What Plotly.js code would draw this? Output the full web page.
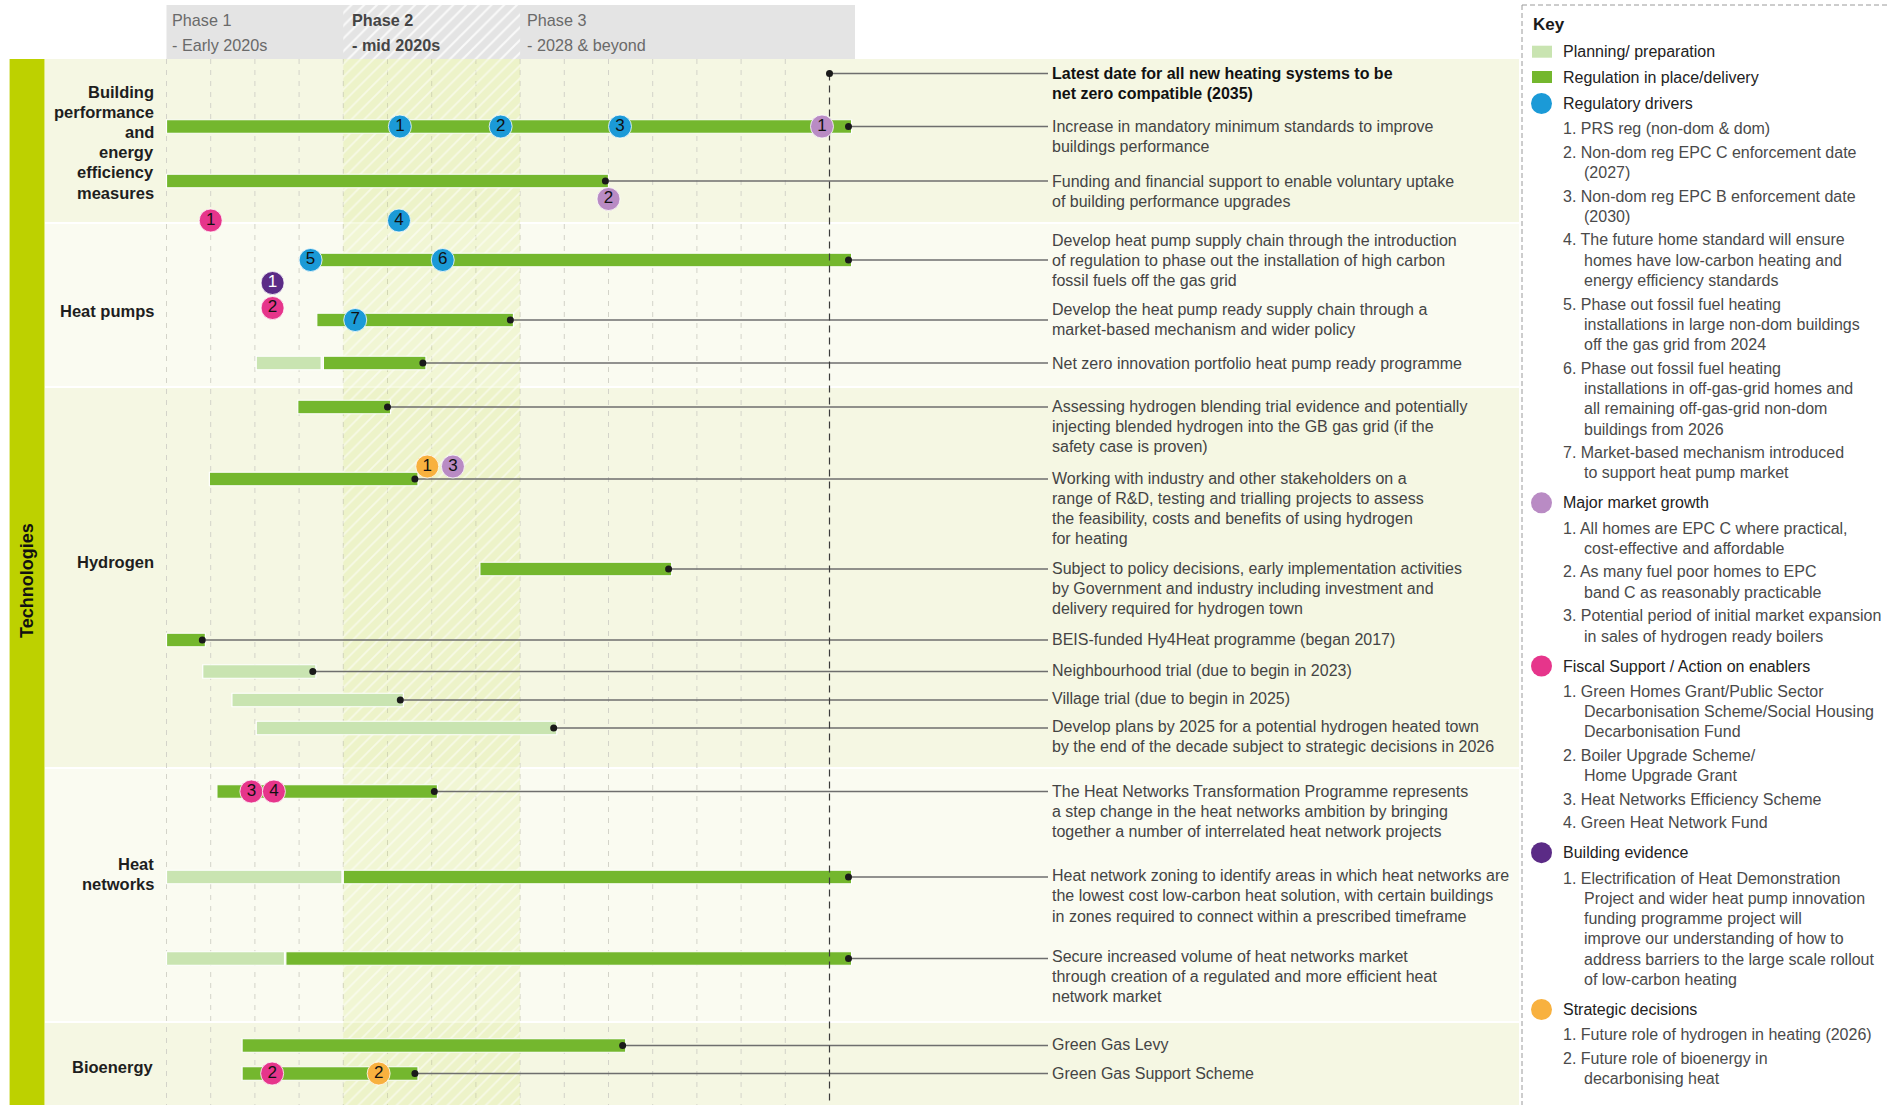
<!DOCTYPE html>
<html><head><meta charset="utf-8">
<script src="https://cdn.plot.ly/plotly-3.0.1.min.js"></script>
<style>html,body{margin:0;padding:0;background:#fff;overflow:hidden}</style>
</head><body><div id="chart" style="width:1887px;height:1105px"></div>
<script>
// ================= DATA =================
const categories = ['Building performance and energy efficiency measures','Heat pumps','Hydrogen','Heat networks','Bioenergy'];
const categoryLines = [['Building','performance','and','energy','efficiency','measures'],['Heat pumps'],['Hydrogen'],['Heat','networks'],['Bioenergy']];
const phaseNames = ['Phase 1','Phase 2','Phase 3'];
const phaseSubtitles = ['- Early 2020s','- mid 2020s','- 2028 & beyond'];
const phaseStartYear = [2020, 2024, 2028];

const activityLines = [
 ['Increase in mandatory minimum standards to improve','buildings performance'],
 ['Funding and financial support to enable voluntary uptake','of building performance upgrades'],
 ['Develop heat pump supply chain through the introduction','of regulation to phase out the installation of high carbon','fossil fuels off the gas grid'],
 ['Develop the heat pump ready supply chain through a','market-based mechanism and wider policy'],
 ['Net zero innovation portfolio heat pump ready programme'],
 ['Assessing hydrogen blending trial evidence and potentially','injecting blended hydrogen into the GB gas grid (if the','safety case is proven)'],
 ['Working with industry and other stakeholders on a','range of R&D, testing and trialling projects to assess','the feasibility, costs and benefits of using hydrogen','for heating'],
 ['Subject to policy decisions, early implementation activities','by Government and industry including investment and','delivery required for hydrogen town'],
 ['BEIS-funded Hy4Heat programme (began 2017)'],
 ['Neighbourhood trial (due to begin in 2023)'],
 ['Village trial (due to begin in 2025)'],
 ['Develop plans by 2025 for a potential hydrogen heated town','by the end of the decade subject to strategic decisions in 2026'],
 ['The Heat Networks Transformation Programme represents','a step change in the heat networks ambition by bringing','together a number of interrelated heat network projects'],
 ['Heat network zoning to identify areas in which heat networks are','the lowest cost low-carbon heat solution, with certain buildings','in zones required to connect within a prescribed timeframe'],
 ['Secure increased volume of heat networks market','through creation of a regulated and more efficient heat','network market'],
 ['Green Gas Levy'],
 ['Green Gas Support Scheme']
];
const planStart  = [null,null,null,null,2022.03,null,null,null,null,2020.82,2021.48,2022.03,null,2020.00,2020.00,null,null];
const planEnd    = [null,null,null,null,2023.50,null,null,null,null,2023.38,2025.36,2028.83,null,2023.97,2022.67,null,null];
const delivStart = [2020.00,2020.00,2023.30,2023.40,2023.55,2022.97,2020.97,2027.09,2020.00,null,null,null,2021.14,2024.00,2022.70,2021.71,2021.71];
const delivEnd   = [2035.50,2030.00,2035.50,2027.85,2025.87,2025.07,2025.69,2031.43,2020.88,null,null,null,2026.13,2035.50,2035.50,2030.39,2025.69];

const deadlineYear = 2035;
const deadlineLines = ['Latest date for all new heating systems to be','net zero compatible (2035)'];

const milestoneType = ['reg','reg','reg','reg','reg','reg','reg','mkt','mkt','mkt','fis','fis','fis','fis','fis','evi','str','str'];
const milestoneNum  = [1,2,3,4,5,6,7, 1,2,3, 1,2,3,4,2, 1, 1,2];
const milestoneYear = [2025.28,2027.56,2030.26,2025.26,2023.26,2026.25,2024.27, 2034.83,2030.00,2026.48, 2021.00,2022.40,2021.92,2022.43,2022.39, 2022.40, 2025.90,2024.80];
const milestoneSlot = ['bp1','bp1','bp1','bpLow','hp1','hp1','hp2', 'bp1','bp2Low','h2Dec', 'bpLow','hpFis','hn1','hn1','bio2', 'hpEvi', 'h2Dec','bio2'];

const keyBars = ['Planning/ preparation','Regulation in place/delivery'];
const keyGroups = [
 {type:'reg', title:'Regulatory drivers', items:[
   ['1. PRS reg (non-dom & dom)'],
   ['2. Non-dom reg EPC C enforcement date','(2027)'],
   ['3. Non-dom reg EPC B enforcement date','(2030)'],
   ['4. The future home standard will ensure','homes have low-carbon heating and','energy efficiency standards'],
   ['5. Phase out fossil fuel heating','installations in large non-dom buildings','off the gas grid from 2024'],
   ['6. Phase out fossil fuel heating','installations in off-gas-grid homes and','all remaining off-gas-grid non-dom','buildings from 2026'],
   ['7. Market-based mechanism introduced','to support heat pump market']]},
 {type:'mkt', title:'Major market growth', items:[
   ['1. All homes are EPC C where practical,','cost-effective and affordable'],
   ['2. As many fuel poor homes to EPC','band C as reasonably practicable'],
   ['3. Potential period of initial market expansion','in sales of hydrogen ready boilers']]},
 {type:'fis', title:'Fiscal Support / Action on enablers', items:[
   ['1. Green Homes Grant/Public Sector','Decarbonisation Scheme/Social Housing','Decarbonisation Fund'],
   ['2. Boiler Upgrade Scheme/','Home Upgrade Grant'],
   ['3. Heat Networks Efficiency Scheme'],
   ['4. Green Heat Network Fund']]},
 {type:'evi', title:'Building evidence', items:[
   ['1. Electrification of Heat Demonstration','Project and wider heat pump innovation','funding programme project will','improve our understanding of how to','address barriers to the large scale rollout','of low-carbon heating']]},
 {type:'str', title:'Strategic decisions', items:[
   ['1. Future role of hydrogen in heating (2026)'],
   ['2. Future role of bioenergy in','decarbonising heat']]}
];

// ================= LAYOUT / STYLE =================
const W = 1887, H = 1105;
const PX0 = 166.5, PPY = 44.2;
const px2yr = p => 2020 + (p - PX0) / PPY;
const FONT = '"Liberation Sans", Arial, Helvetica, sans-serif';
const BODY = 16.0;
const C = {plan:'#c9e4b1', deliv:'#74b72e', reg:'#1b9ad7', mkt:'#b98bc4', fis:'#e6358b', evi:'#5b2b86', str:'#f8b13f'};
const actY  = [126.5,181,260,320,363,407,479,569,640,671.5,700,728,791.5,877,958.5,1045.5,1073.5];
const textY = [126.5,181,240,309.5,363,406,478,568,639.5,670.5,698.5,726,791,875.5,956,1044.5,1073.5];
const slotY = {bp1:126.5, bpLow:220.5, bp2Low:199, hp1:260, hp2:320, hpEvi:283, hpFis:308, h2Dec:466.5, hn1:791.5, bio2:1073.5};
const LINE = 20.3;
const TEXT_PX = 1051, LINE_END_PX = 1048;
const rows = [[59,222,'#f5f7e3'],[224,386,'#fafbf1'],[388,767,'#f5f7e3'],[769,1021,'#fafbf1'],[1023,1105,'#f5f7e3']];
const catY = [[91.5,20.2],[310.5,0],[562,0],[864,19.5],[1067,0]];
const gridYears = [2020,2021,2022,2023,2024,2025,2026,2027,2028,2029,2030,2031,2032,2033,2034];

const shapes = [], annotations = [];
const esc = s => s.replace(/&/g,'&amp;');
function txt(text, xPx, yPx, o = {}) {
  annotations.push({text: esc(text), xref:'paper', x: xPx / W, yref:'y', y: yPx,
    xanchor: o.xanchor || 'left', yanchor:'middle', showarrow:false, borderpad:0,
    textangle: o.angle || 0,
    font:{family:FONT, size:o.size || BODY, color:o.color || '#444', weight: o.bold ? 'bold' : 'normal'}});
}
function rectPx(x0, x1, y0, y1, color, extra = {}) {
  shapes.push(Object.assign({type:'rect', layer:'below', xref:'paper', yref:'y', x0:x0/W, x1:x1/W, y0, y1,
    fillcolor:color, line:{width:0}}, extra));
}

// backgrounds
rows.forEach(r => rectPx(45, 1519, r[0], r[1], r[2]));
rectPx(9.6, 44.5, 59, 1105, '#bdd100');
rectPx(PX0, 855, 5, 59, '#e4e4e4');
gridYears.forEach(y => shapes.push({type:'line', layer:'below', xref:'x', yref:'y', x0:y, x1:y, y0:59, y1:1105,
  line:{color:'#d3d3c9', width:1, dash:'5px,6px'}}));
// key border
shapes.push({type:'line', layer:'below', xref:'paper', yref:'y', x0:1522/W, x1:1522/W, y0:5, y1:1105, line:{color:'#9a9a9a', width:1, dash:'5px,3px'}});
shapes.push({type:'line', layer:'below', xref:'paper', yref:'y', x0:1522/W, x1:1, y0:5, y1:5, line:{color:'#9a9a9a', width:1, dash:'5px,3px'}});

// header texts
const phasePx = [171, 351, 526];
phaseNames.forEach((p, i) => {
  const b = i === 1;
  txt(p, phasePx[i], 19.5, {color: b ? '#444' : '#6a6a6a', bold: b, size:16.2});
  txt(phaseSubtitles[i], phasePx[i], 44.5, {color: b ? '#444' : '#6a6a6a', bold: b, size:16.2});
});

// category labels
categoryLines.forEach((lines, i) => lines.forEach((l, j) =>
  txt(l, 155, catY[i][0] + j * catY[i][1], {xanchor:'right', bold:true, color:'#1e1e1e', size:16.5})));
txt('Technologies', 27, 581, {angle:-90, bold:true, color:'#111', size:18, xanchor:'center'});

// activity texts
activityLines.forEach((lines, i) => lines.forEach((l, j) => txt(l, TEXT_PX, textY[i] + j * LINE)));
deadlineLines.forEach((l, j) => txt(l, TEXT_PX, 73.5 + j * LINE, {bold:true, color:'#111'}));

// key
txt('Key', 1532, 24, {bold:true, color:'#1a1a1a', size:17});
rectPx(1532, 1552, 45.7, 57.7, C.plan, {layer:'above'});
rectPx(1532, 1552, 71, 83, C.deliv, {layer:'above'});
txt(keyBars[0], 1562, 51.7, {color:'#222'});
txt(keyBars[1], 1562, 77, {color:'#222'});
let ky = 103.5;
keyGroups.forEach((g, gi) => {
  if (gi > 0) ky += 30;
  shapes.push({type:'circle', layer:'above', xref:'paper', yref:'y', x0:(1541.5-10.5)/W, x1:(1541.5+10.5)/W, y0:ky-10.5, y1:ky+10.5, fillcolor:C[g.type], line:{width:0}});
  txt(g.title, 1562, ky, {color:'#222'});
  ky += 25.3 - 23.5;
  g.items.forEach(item => {
    ky += 23.5;
    item.forEach((l, j) => { if (j > 0) ky += LINE; txt(l, j === 0 ? 1562 : 1582.7, ky, {color:'#4a4a4a'}); });
  });
});

// ================= TRACES =================
const traces = [];
const xEnd = px2yr(LINE_END_PX);
// phase 2 hatched band (header + body)
traces.push({type:'bar', orientation:'h', y:[(5+59)/2], base:[phaseStartYear[1]], x:[phaseStartYear[2]-phaseStartYear[1]], width:[54],
  marker:{color:'rgba(0,0,0,0)', line:{width:0}, pattern:{shape:'/', fillmode:'overlay', fgcolor:'#ffffff', fgopacity:0.8, size:9, solidity:0.22}}, hoverinfo:'skip'});
traces.push({type:'bar', orientation:'h', y:[(59+1105)/2], base:[phaseStartYear[1]], x:[phaseStartYear[2]-phaseStartYear[1]], width:[1046],
  marker:{color:'rgba(205,225,95,0.2)', line:{width:0}, pattern:{shape:'/', fillmode:'overlay', fgcolor:'#ffffff', fgopacity:0.55, size:9, solidity:0.2}}, hoverinfo:'skip'});

const pIdx = planStart.map((v,i)=>v===null?-1:i).filter(i=>i>=0);
const dIdx = delivStart.map((v,i)=>v===null?-1:i).filter(i=>i>=0);
traces.push({type:'bar', orientation:'h', y:pIdx.map(i=>actY[i]), base:pIdx.map(i=>planStart[i]), x:pIdx.map(i=>planEnd[i]-planStart[i]),
  width:pIdx.map(()=>13.5), marker:{color:C.plan, line:{color:'#ffffff', width:1.2}}, text:pIdx.map(i=>activityLines[i].join(' ')), hoverinfo:'text', textposition:'none'});
traces.push({type:'bar', orientation:'h', y:dIdx.map(i=>actY[i]), base:dIdx.map(i=>delivStart[i]), x:dIdx.map(i=>delivEnd[i]-delivStart[i]),
  width:dIdx.map(()=>13.5), marker:{color:C.deliv, line:{color:'#ffffff', width:1.2}}, text:dIdx.map(i=>activityLines[i].join(' ')), hoverinfo:'text', textposition:'none'});

// connectors
const ends = activityLines.map((_, i) => delivEnd[i] !== null ? delivEnd[i] : planEnd[i]);
const cx = [], cy = [];
ends.forEach((e, i) => { cx.push(e, xEnd, null); cy.push(actY[i], actY[i], null); });
cx.push(deadlineYear, xEnd, null); cy.push(73.5, 73.5, null);
traces.push({type:'scatter', mode:'lines', x:cx, y:cy, line:{color:'#6e6e6e', width:1.3}, hoverinfo:'skip'});
// 2035 dashed line
traces.push({type:'scatter', mode:'lines', x:[deadlineYear, deadlineYear], y:[73.5, 1105], line:{color:'#3c3c3c', width:1.2, dash:'7px,5px'}, hoverinfo:'skip'});
// end dots
traces.push({type:'scatter', mode:'markers', x:ends.map(e => e - 0.07).concat([deadlineYear]), y:actY.concat([73.5]),
  marker:{color:'#1a1a1a', size:7}, hoverinfo:'skip'});
// milestones
['reg','mkt','fis','evi','str'].forEach(t => {
  const idx = milestoneType.map((v,i)=>v===t?i:-1).filter(i=>i>=0);
  traces.push({type:'scatter', mode:'markers+text', x:idx.map(i=>milestoneYear[i]), y:idx.map(i=>slotY[milestoneSlot[i]]),
    text:idx.map(i=>String(milestoneNum[i])), textposition:'middle center',
    textfont:{family:FONT, size:17, color: t === 'evi' ? '#ffffff' : '#111111'},
    marker:{color:C[t], size:23, line:{color:'#ffffff', width:0.8}}, hoverinfo:'skip'});
});

const layout = {
  width:W, height:H, margin:{l:0,r:0,t:0,b:0,pad:0},
  paper_bgcolor:'#ffffff', plot_bgcolor:'#ffffff', showlegend:false, barmode:'overlay',
  xaxis:{range:[px2yr(0), px2yr(W)], visible:false, fixedrange:true},
  yaxis:{range:[H, 0], visible:false, fixedrange:true},
  shapes, annotations
};
Plotly.newPlot('chart', traces, layout, {staticPlot:true, displayModeBar:false});
</script></body></html>
